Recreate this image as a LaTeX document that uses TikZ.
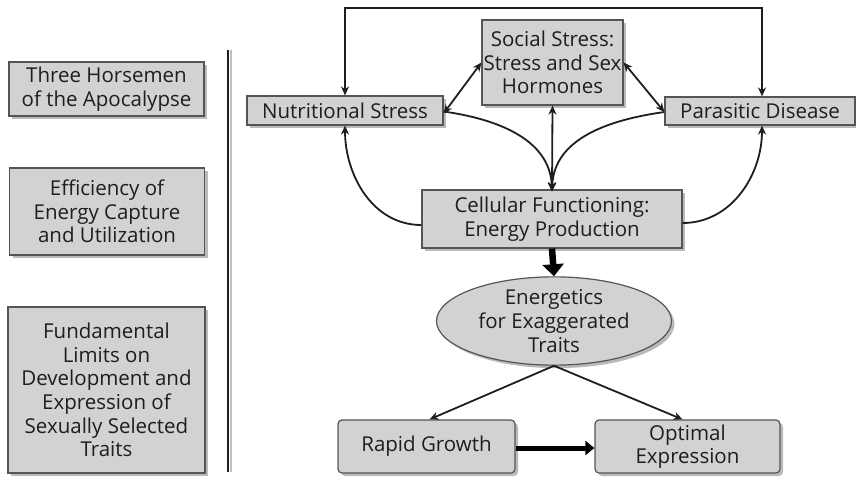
\documentclass[tikz,border=0pt]{standalone}
\usepackage{fontspec}
\setmainfont{Open Sans}
\usetikzlibrary{arrows.meta,shadows,shapes.geometric}
\definecolor{boxfill}{HTML}{D2D2D2}
\definecolor{boxline}{HTML}{555555}
\definecolor{ink}{HTML}{1E1E1E}
\tikzset{
  gbox/.style={draw=boxline, line width=1.2pt, fill=boxfill, text=ink, align=center,
    inner sep=0pt, font=\fontsize{20.5}{23.6}\selectfont,
    drop shadow={shadow xshift=3pt, shadow yshift=-3pt, fill=black!45, opacity=0.6}},
  rbox/.style={gbox, rounded corners=4pt},
  ebox/.style={gbox, ellipse},
  link/.style={draw=ink, line width=1.8pt, -{Stealth[length=9pt,width=8pt]}},
  dlink/.style={link, {Stealth[length=9pt,width=8pt]}-{Stealth[length=9pt,width=8pt]}},
  bigarrow/.style={draw=black, line width=6.5pt, -{Triangle[length=12pt,width=21pt]}},
  midarrow/.style={draw=black, line width=5pt, -{Triangle[length=9pt,width=14pt]}},
}
\begin{document}
\begin{tikzpicture}[x=1pt, y=-1pt]
  \useasboundingbox (0,0) rectangle (856,479);

  % left-hand column of headings
  \node[gbox, minimum width=195pt, minimum height=54pt] (h1) at (106.5,89) {Three Horsemen\\of the Apocalypse};
  \node[gbox, minimum width=195pt, minimum height=87pt] (h2) at (107,211.5) {Efficiency of\\Energy Capture\\and Utilization};
  \node[gbox, minimum width=197pt, minimum height=166pt] (h3) at (106.5,390) {Fundamental\\Limits on\\Development and\\Expression of\\Sexually Selected\\Traits};

  % divider
  \coordinate (dtop) at (228,50);
  \coordinate (dbot) at (228,472);
  \draw[black!25, line width=2pt] ([xshift=2.5pt]dtop) -- ([xshift=2.5pt]dbot);
  \draw[ink, line width=1.6pt] (dtop) -- (dbot);

  % stress nodes
  \node[gbox, minimum width=196pt, minimum height=29pt] (nut) at (345,110.5) {Nutritional Stress};
  \node[gbox, minimum width=141pt, minimum height=85pt] (soc) at (552.5,62.5) {Social Stress:\\Stress and Sex\\Hormones};
  \node[gbox, minimum width=190pt, minimum height=28pt] (par) at (760,111) {Parasitic Disease};
  \node[gbox, minimum width=260pt, minimum height=58pt] (cell) at (552,219) {Cellular Functioning:\\Energy Production};
  \node[ebox, minimum width=235pt, minimum height=82pt] (ell) at (554,321) {Energetics\\for Exaggerated\\Traits};
  \node[rbox, minimum width=177pt, minimum height=53pt] (rap) at (426.5,446.5) {Rapid Growth};
  \node[rbox, minimum width=185pt, minimum height=53pt] (opt) at (687.5,446.5) {Optimal\\Expression};

  % feedback loop over the top
  \coordinate (tl) at (345,8);
  \coordinate (tr) at (762,8);
  \draw[dlink] (nut.north) -- (tl) -- (tr) -- ([xshift=2pt]par.north);

  % links around social stress
  \draw[dlink] (soc.west) -- ([yshift=-3pt]nut.east);
  \draw[dlink] (soc.east) -- ([yshift=-1pt]par.west);
  \draw[dlink] (soc.south) -- ([yshift=-2pt]cell.north);

  % converging curves into cellular functioning
  \draw[link] ([yshift=-1pt]nut.east) to[out=-8, in=92] ([yshift=-2pt]cell.north);
  \draw[link] ([yshift=-1pt]par.west) to[out=188, in=88] ([yshift=-2pt]cell.north);

  % curves back up from cellular functioning
  \draw[link] ([yshift=-6pt]cell.west) to[out=180, in=-90] (nut.south);
  \draw[link] ([yshift=-4pt]cell.east) to[out=0, in=-90] ([xshift=2pt]par.south);

  % thick arrows
  \draw[bigarrow] (cell.south) -- (ell.north);
  \draw[link] (ell.south) -- ([xshift=3pt]rap.north);
  \draw[link] (ell.south) -- ([xshift=-5pt]opt.north);
  \draw[midarrow] ([yshift=-1.5pt]rap.east) -- ([yshift=-1.5pt]opt.west);
\end{tikzpicture}
\end{document}
